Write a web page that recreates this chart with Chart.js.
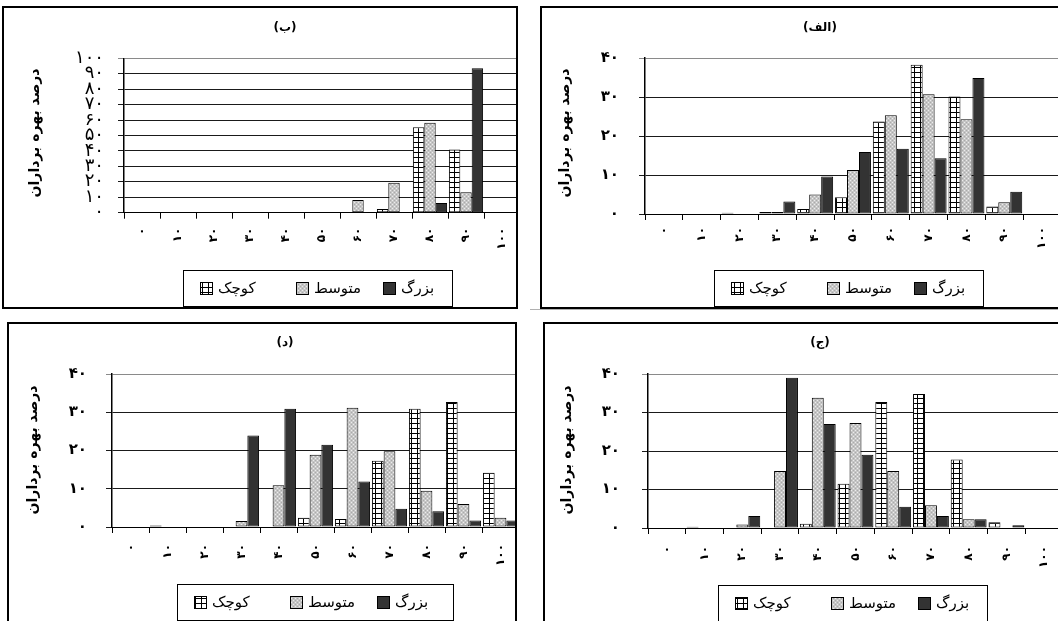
<!DOCTYPE html>
<html><head><meta charset="utf-8">
<script src="https://cdn.jsdelivr.net/npm/chart.js@4/dist/chart.umd.min.js"></script>
<style>
html,body{margin:0;padding:0;background:#fff;width:1058px;height:621px;overflow:hidden;position:relative}
.panel{position:absolute;border:2px solid #000;overflow:hidden;background:#fff;box-sizing:border-box}
.panel canvas{position:absolute;left:0;top:0}
</style></head><body>
<div style="position:absolute;left:530px;top:309px;width:528px;height:1px;background:#b0b0b0"></div>
<script>
// ---- data ----
const categories = ['۰','۱۰','۲۰','۳۰','۴۰','۵۰','۶۰','۷۰','۸۰','۹۰','۱۰۰'];
const seriesNames = ['کوچک','متوسط','بزرگ'];
const yAxisTitle = 'درصد بهره برداران';

// panel (ب)
const bSmall  = [0,0,0,0,0,0,0.5,2.4,55.3,41.0,0];
const bMedium = [0,0,0,0,0,0.5,8.2,19.4,58.3,13.2,0];
const bLarge  = [0,0,0,0,0,0,0,0,6.3,93.5,0];
// panel (الف)
const alefSmall  = [0,0,0.3,0.5,1.3,4.3,23.7,38.3,30.1,1.9,0];
const alefMedium = [0,0,0,0.5,5.0,11.3,25.3,30.7,24.3,3.0,0];
const alefLarge  = [0,0,0,3.2,9.6,15.9,16.7,14.3,34.9,5.7,0];
// panel (د)
const dalSmall  = [0,0.4,0,0,0,2.4,2.1,17.3,30.9,32.7,14.2];
const dalMedium = [0,0,0,1.6,10.9,18.9,31.2,19.8,9.5,6.0,2.4];
const dalLarge  = [0,0,0,23.9,30.9,21.5,11.9,4.8,4.1,1.7,1.7];
// panel (ج)
const jimSmall  = [0,0.3,0,0,1.1,11.5,32.7,34.8,17.8,1.5,0];
const jimMedium = [0,0,0.9,14.8,33.8,27.3,14.8,5.9,2.3,0,0];
const jimLarge  = [0,0,3.1,39.0,27.0,19.0,5.5,3.1,2.3,0.7,0];

const titles = {b:'(ب)', alef:'(الف)', dal:'(د)', jim:'(ج)'};

// ---- styles ----
const FA = 'DejaVu Sans';
function fa(v){return String(v).replace(/\d/g,d=>'۰۱۲۳۴۵۶۷۸۹'[d]);}
function mkPattern(w,h,draw){const c=document.createElement('canvas');c.width=w;c.height=h;const x=c.getContext('2d');draw(x);return x.createPattern(c,'repeat');}
const patSmall = mkPattern(6,5,x=>{x.fillStyle='#fff';x.fillRect(0,0,6,5);x.fillStyle='#000';x.fillRect(0,4,6,1);x.fillRect(0,0,1,5);});
const patMed = mkPattern(4,4,x=>{x.fillStyle='#c6c6c6';x.fillRect(0,0,4,4);x.fillStyle='#ececec';x.fillRect(0,0,1,1);x.fillRect(2,2,1,1);x.fillStyle='#aaaaaa';x.fillRect(2,0,1,1);x.fillRect(0,2,1,1);});
const fills = [patSmall, patMed, '#333333'];

const deco = {
  id:'deco',
  afterDraw(chart, args, o){
    const ctx = chart.ctx; ctx.save();
    ctx.fillStyle='#000'; ctx.textAlign='center'; ctx.textBaseline='middle';
    ctx.font='bold 12px "'+FA+'"';
    ctx.fillText(o.title, o.tx, o.ty);
    ctx.save(); ctx.translate(o.yx, o.yy); ctx.rotate(-Math.PI/2);
    ctx.font='bold 14px "'+FA+'"'; ctx.fillText(yAxisTitle,0,0); ctx.restore();
    // legend
    const L=o.leg; ctx.lineWidth=1; ctx.strokeStyle='#000';
    ctx.strokeRect(Math.round(L.x)+0.5, Math.round(L.y)+0.5, L.w, L.h);
    const offs=[17,113,200]; const cy=L.y+L.h/2;
    ctx.font='15px "'+FA+'"'; ctx.textAlign='left';
    for(let i=0;i<3;i++){
      const sx=Math.round(L.x+offs[i]), sy=Math.round(cy-6);
      ctx.fillStyle=fills[i]; ctx.fillRect(sx,sy,12,12);
      ctx.strokeRect(sx+0.5,sy+0.5,12,12);
      ctx.fillStyle='#000'; ctx.fillText(seriesNames[i], sx+18, cy+1);
    }
    ctx.restore();
  }
};

function makePanel(cfg){
  const div=document.createElement('div'); div.className='panel';
  Object.assign(div.style,{left:cfg.box.x+'px',top:cfg.box.y+'px',width:cfg.box.w+'px',height:cfg.box.h+'px'});
  document.body.appendChild(div);
  const ox=cfg.box.x+2, oy=cfg.box.y+2;
  const W=Math.round(cfg.plot.r-ox+8), H=cfg.box.h-4;
  const cv=document.createElement('canvas'); cv.width=W; cv.height=H; cv.style.width=W+'px'; cv.style.height=H+'px';
  div.appendChild(cv);
  const Lp=cfg.plot.l-ox, T=cfg.plot.t-oy, B=cfg.plot.b-oy, R=cfg.plot.r-ox;
  new Chart(cv,{
    type:'bar',
    data:{labels:categories, datasets:cfg.series.map((d,i)=>({label:seriesNames[i],data:d,backgroundColor:fills[i],borderColor:'#000',borderWidth:1,borderSkipped:false}))},
    options:{
      responsive:false, animation:false, devicePixelRatio:1,
      categoryPercentage:0.95, barPercentage:1.0,
      layout:{padding:{left:0,top:T,right:W-R,bottom:0}},
      plugins:{legend:{display:false},title:{display:false},tooltip:{enabled:false},
        deco:{title:cfg.title, tx:cfg.t.x-ox, ty:cfg.t.y-oy, yx:cfg.yt.x-ox, yy:cfg.yt.y-oy, leg:{x:cfg.leg.x-ox,y:cfg.leg.y-oy,w:cfg.leg.w,h:cfg.leg.h}}},
      scales:{
        x:{offset:true,
          grid:{offset:true,drawOnChartArea:false,drawTicks:true,tickLength:6,color:'#000'},
          border:{color:'#000',width:1},
          ticks:{autoSkip:false,minRotation:90,maxRotation:90,padding:cfg.xpad,color:'#000',font:{family:FA,size:12,weight:'bold'}},
          afterFit:s=>{s.height=H-B;}},
        y:{min:0,max:cfg.max,
          grid:{color:c=>c.tick&&c.tick.value===cfg.max?'#8a8a8a':'#1a1a1a',tickLength:6,lineWidth:1},
          border:{color:'#000',width:1.5},
          ticks:{stepSize:10,autoSkip:false,padding:cfg.ypad,color:'#000',font:cfg.yfont,callback:v=>fa(v)},
          afterFit:s=>{s.width=Lp;}}
      }
    },
    plugins:[deco]
  });
}

makePanel({box:{x:2,y:6,w:516,h:303}, plot:{l:124,r:520,t:58.3,b:212.7}, max:100, title:titles.b,
  t:{x:285,y:28}, yt:{x:35,y:133}, leg:{x:183,y:270,w:269,h:36}, xpad:9, ypad:14,
  yfont:{family:FA,size:18,lineHeight:1.0}, series:[bSmall,bMedium,bLarge]});
makePanel({box:{x:540,y:6,w:530,h:303}, plot:{l:645,r:1061,t:58,b:214}, max:40, title:titles.alef,
  t:{x:820,y:28}, yt:{x:565,y:133}, leg:{x:714,y:270,w:269,h:36}, xpad:7, ypad:20,
  yfont:{family:FA,size:15,weight:'bold'}, series:[alefSmall,alefMedium,alefLarge]});
makePanel({box:{x:7,y:322,w:510,h:310}, plot:{l:112,r:519,t:374,b:527}, max:40, title:titles.dal,
  t:{x:285,y:343}, yt:{x:33,y:450}, leg:{x:177,y:584,w:276,h:36}, xpad:11, ypad:19,
  yfont:{family:FA,size:15,weight:'bold'}, series:[dalSmall,dalMedium,dalLarge]});
makePanel({box:{x:543,y:322,w:530,h:310}, plot:{l:648,r:1063,t:374,b:528}, max:40, title:titles.jim,
  t:{x:820,y:343}, yt:{x:567,y:450}, leg:{x:718,y:585,w:269,h:36}, xpad:12, ypad:22,
  yfont:{family:FA,size:15,weight:'bold'}, series:[jimSmall,jimMedium,jimLarge]});
</script>
</body></html>
